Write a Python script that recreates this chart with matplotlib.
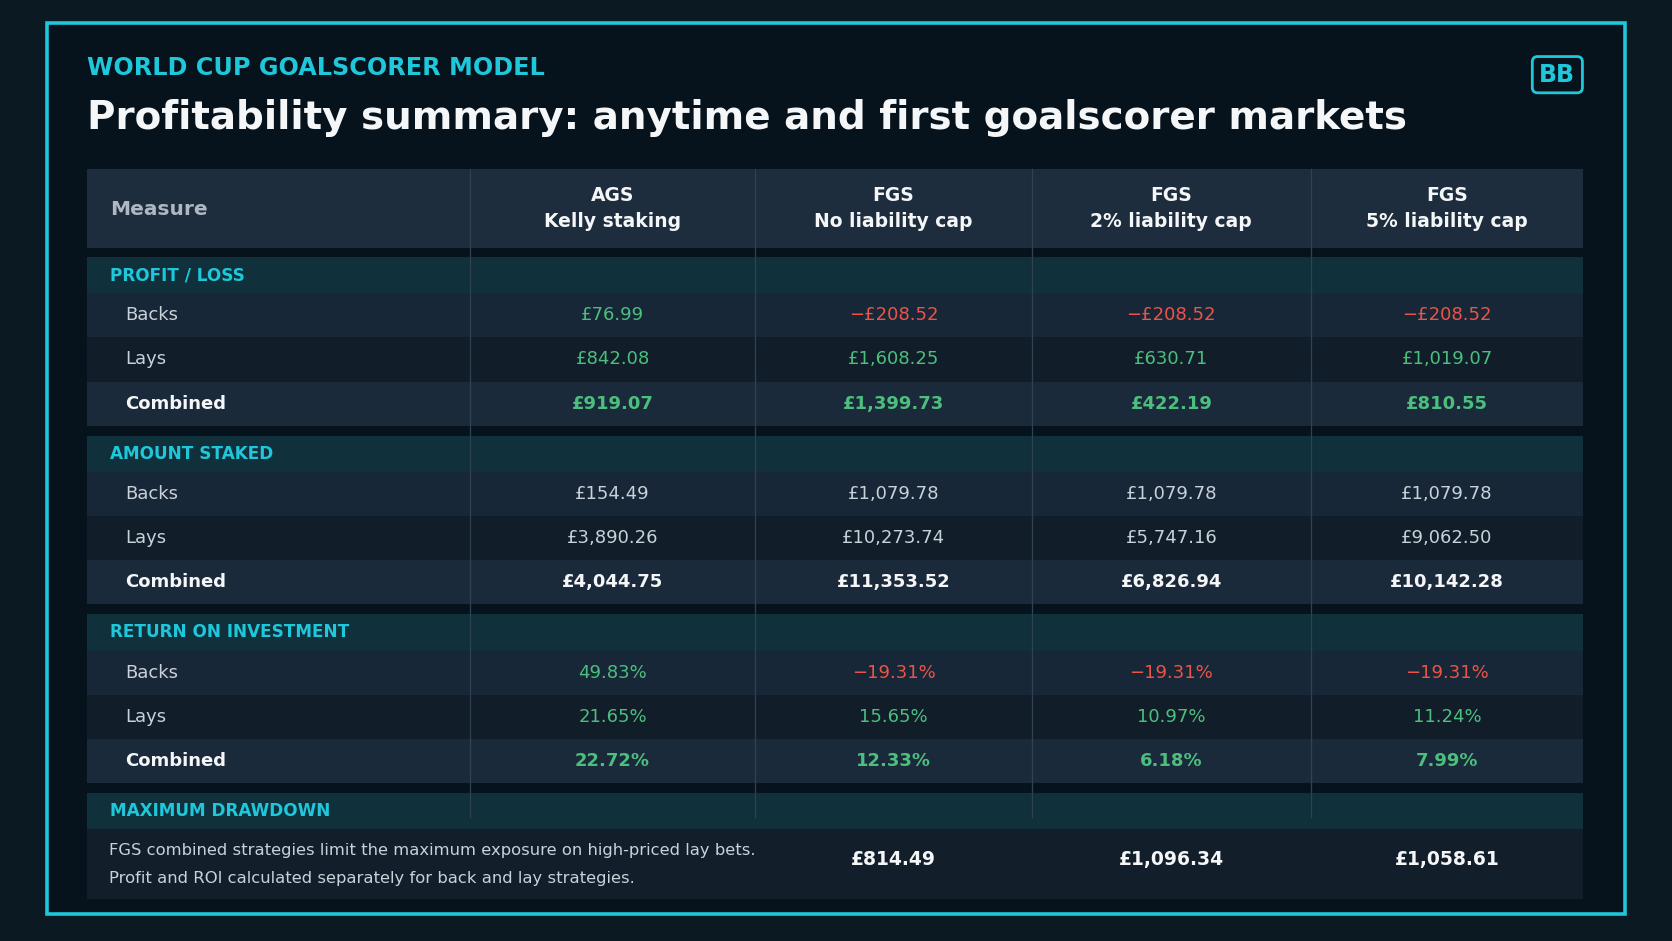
import numpy as np
import matplotlib
matplotlib.use("Agg")
import matplotlib.pyplot as plt
from matplotlib.patches import Rectangle, FancyBboxPatch

plt.rcParams['font.family'] = ['DejaVu Sans']

subtitle = "WORLD CUP GOALSCORER MODEL"
title = "Profitability summary: anytime and first goalscorer markets"
col_top = ["AGS", "FGS", "FGS", "FGS"]
col_bottom = ["Kelly staking", "No liability cap", "2% liability cap", "5% liability cap"]
sections = ["PROFIT / LOSS", "AMOUNT STAKED", "RETURN ON INVESTMENT"]
row_labels = ["Backs", "Lays", "Combined"]

profit_backs = [76.99, -208.52, -208.52, -208.52]
profit_lays = [842.08, 1608.25, 630.71, 1019.07]
profit_combined = [919.07, 1399.73, 422.19, 810.55]

staked_backs = [154.49, 1079.78, 1079.78, 1079.78]
staked_lays = [3890.26, 10273.74, 5747.16, 9062.50]
staked_combined = [4044.75, 11353.52, 6826.94, 10142.28]

roi_backs = [49.83, -19.31, -19.31, -19.31]
roi_lays = [21.65, 15.65, 10.97, 11.24]
roi_combined = [22.72, 12.33, 6.18, 7.99]

drawdown_label = "MAXIMUM DRAWDOWN"
drawdown = [None, 814.49, 1096.34, 1058.61]
notes = ["FGS combined strategies limit the maximum exposure on high-priced lay bets.",
         "Profit and ROI calculated separately for back and lay strategies."]

# colours
BG = '#0b1923'
INNER = '#07131c'
CYAN = '#1ec8da'
HEAD_BG = '#1d2d3d'
BAND_BG = '#10303c'
ROW_BG = ['#182737', '#111e2a', '#1a2a3a']
GREEN = '#4cbf7e'
RED = '#ec5448'
LIGHT = '#c9d1d9'
WHITE = '#f4f6f8'
SEP = '#2f4252'


def fmt_money(v):
    s = f"£{abs(v):,.2f}"
    return ("\u2212" + s) if v < 0 else s


def fmt_pct(v):
    s = f"{abs(v):.2f}%"
    return ("\u2212" + s) if v < 0 else s


fig = plt.figure(figsize=(16.72, 9.41), dpi=100)
fig.patch.set_facecolor(BG)
ax = fig.add_axes([0, 0, 1, 1])
ax.set_xlim(0, 1568)
ax.set_ylim(882, 0)
ax.axis('off')

# frame
ax.add_patch(Rectangle((44, 22), 1480, 835, facecolor=INNER, edgecolor=CYAN, lw=2.6, zorder=1))

# headings
ax.text(82, 64, subtitle, color=CYAN, fontsize=17.2, fontweight='bold', va='center', ha='left')
ax.text(82, 111, title, color=WHITE, fontsize=28, fontweight='bold', va='center', ha='left')

# BB badge
ax.add_patch(FancyBboxPatch((1437, 53), 47, 34, boxstyle="round,pad=0,rounding_size=5",
                            facecolor=INNER, edgecolor=CYAN, lw=2, zorder=3))
ax.text(1460.5, 70.5, "BB", color=CYAN, fontsize=17, fontweight='bold', ha='center', va='center', zorder=4)

x0, x1 = 82, 1485
seps = [441, 708, 968, 1229]
edges = [x0] + seps + [x1]
centers = [(edges[i + 1] + edges[i + 2]) / 2 for i in range(4)]

# header row
ax.add_patch(Rectangle((x0, 158), x1 - x0, 74, facecolor=HEAD_BG, lw=0, zorder=2))
ax.text(103, 196, "Measure", color='#aeb8c2', fontsize=14.5, fontweight='bold', va='center', zorder=5)
for cx, t, b in zip(centers, col_top, col_bottom):
    ax.text(cx, 183, t, color=WHITE, fontsize=13.5, fontweight='bold', ha='center', va='center', zorder=5)
    ax.text(cx, 208, b, color=WHITE, fontsize=13.5, fontweight='bold', ha='center', va='center', zorder=5)

blocks = [
    (sections[0], [profit_backs, profit_lays, profit_combined], fmt_money, True),
    (sections[1], [staked_backs, staked_lays, staked_combined], fmt_money, False),
    (sections[2], [roi_backs, roi_lays, roi_combined], fmt_pct, True),
]

band_h, row_h, gap = 34, 41.3, 9.5
y = 241
for name, rows, fmt, coloured in blocks:
    ax.add_patch(Rectangle((x0, y), x1 - x0, band_h, facecolor=BAND_BG, lw=0, zorder=2))
    ax.text(103, y + band_h / 2, name, color=CYAN, fontsize=12.2, fontweight='bold', va='center', zorder=5)
    y += band_h
    for i, (lab, vals) in enumerate(zip(row_labels, rows)):
        ax.add_patch(Rectangle((x0, y), x1 - x0, row_h, facecolor=ROW_BG[i], lw=0, zorder=2))
        bold = (i == 2)
        ax.text(117, y + row_h / 2, lab, color=WHITE if bold else LIGHT, fontsize=13,
                fontweight='bold' if bold else 'normal', va='center', zorder=5)
        for cx, v in zip(centers, vals):
            if coloured:
                c = RED if v < 0 else GREEN
            else:
                c = WHITE if bold else LIGHT
            ax.text(cx, y + row_h / 2, fmt(v), color=c, fontsize=13,
                    fontweight='bold' if bold else 'normal', ha='center', va='center', zorder=5)
        y += row_h
    y += gap

# maximum drawdown block
ax.add_patch(Rectangle((x0, y), x1 - x0, band_h, facecolor=BAND_BG, lw=0, zorder=2))
ax.text(103, y + band_h / 2, drawdown_label, color=CYAN, fontsize=12.2, fontweight='bold', va='center', zorder=5)
sep_end = y + 23
y += band_h
ax.add_patch(Rectangle((x0, y), x1 - x0, 65, facecolor='#121f2b', lw=0, zorder=2))
ax.text(102, y + 20, notes[0], color=LIGHT, fontsize=11.8, va='center', zorder=5)
ax.text(102, y + 46, notes[1], color=LIGHT, fontsize=11.8, va='center', zorder=5)
for cx, v in zip(centers, drawdown):
    if v is None:
        continue
    ax.text(cx, y + 28, fmt_money(v), color=WHITE, fontsize=13.5, fontweight='bold',
            ha='center', va='center', zorder=5)

for sx in seps:
    ax.plot([sx, sx], [158, sep_end], color=SEP, lw=0.9, zorder=4)

fig.savefig("out.png", dpi=100, facecolor=fig.get_facecolor())
